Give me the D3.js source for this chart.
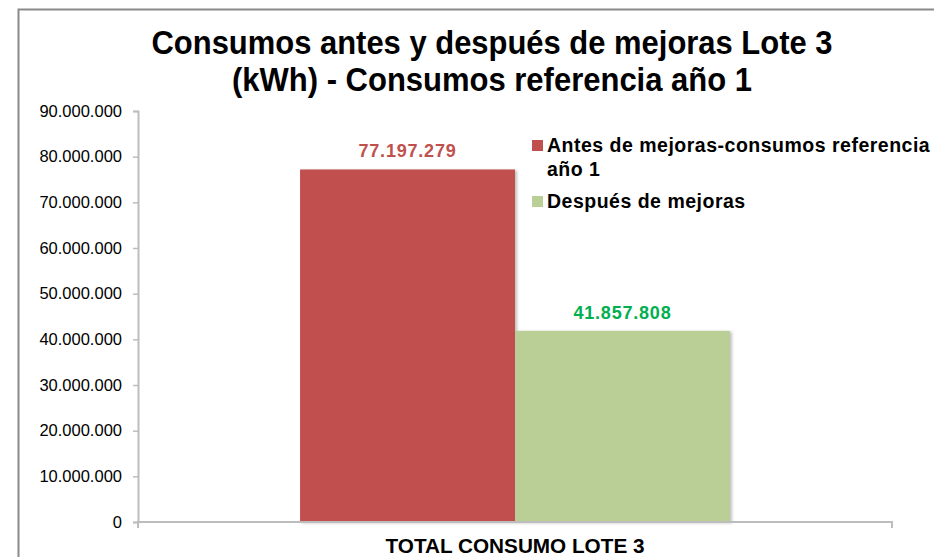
<!DOCTYPE html>
<html>
<head>
<meta charset="utf-8">
<script src="https://cdn.jsdelivr.net/npm/d3@7"></script>
<style>
  body { margin: 0; background: #fff; }
  svg { font-family: "Liberation Sans", Arial, Helvetica, sans-serif; }
</style>
</head>
<body>
<div id="chart"></div>
<script>
// chart data
const categories = ["TOTAL CONSUMO LOTE 3"]
const seriesNames = ["Antes de mejoras-consumos referencia año 1", "Después de mejoras"]
const seriesValues = [77197279, 41857808]
const yTicks = [0, 10000000, 20000000, 30000000, 40000000, 50000000, 60000000, 70000000, 80000000, 90000000]
const titleLines = ["Consumos antes y después de mejoras Lote 3", "(kWh) - Consumos referencia año 1"]

const barColors = ["#C0504D", "#B9CF96"]
const labelColors = ["#C0504D", "#00B050"]

const width = 934, height = 557
const margin = { left: 138, right: 42, top: 111, bottom: 35 }

const es = d3.formatLocale({ decimal: ",", thousands: ".", grouping: [3], currency: ["", "€"] })
const fmt = es.format(",.0f")

const svg = d3.select("#chart").append("svg")
    .attr("width", width)
    .attr("height", height)

// soft shadow for the bars
const defs = svg.append("defs")
const shadow = defs.append("filter").attr("id", "shadow")
    .attr("x", "-5%").attr("y", "-5%").attr("width", "115%").attr("height", "115%")
shadow.append("feDropShadow")
    .attr("dx", 2).attr("dy", 1).attr("stdDeviation", 1.5)
    .attr("flood-color", "#000").attr("flood-opacity", 0.25)

// outer frame (top and left edges only visible)
svg.append("path")
    .attr("d", "M 18.5," + height + " L 18.5,9.5 L " + width + ",9.5")
    .attr("fill", "none")
    .attr("stroke", "#8a8a8a")
    .attr("stroke-width", 2)

// title - the original glyphs are narrow, so squeeze to the measured widths
const titleWidths = [681, 520]
svg.append("g").selectAll("text")
    .data(titleLines)
    .enter().append("text")
    .attr("x", 492)
    .attr("y", function (d, i) { return 54 + i * 37; })
    .attr("text-anchor", "middle")
    .attr("textLength", function (d, i) { return titleWidths[i]; })
    .attr("lengthAdjust", "spacingAndGlyphs")
    .style("font-size", "33px")
    .style("font-weight", "bold")
    .style("fill", "#000")
    .text(function (d) { return d; })

const y = d3.scaleLinear()
    .domain([0, 90000000])
    .range([height - margin.bottom, margin.top])

const x0 = d3.scaleBand()
    .domain(categories)
    .range([margin.left, width - margin.right])
    .paddingInner(0)
    .paddingOuter(0.377)

const x1 = d3.scaleBand()
    .domain(seriesNames)
    .range([0, x0.bandwidth()])

// y axis
const yAxis = svg.append("g")
    .attr("transform", "translate(" + margin.left + ",0)")
    .call(d3.axisLeft(y).tickValues(yTicks).tickFormat(fmt).tickSize(5).tickPadding(11))
yAxis.select(".domain").attr("stroke", "#bdbdbd").attr("stroke-width", 2)
yAxis.selectAll(".tick line").attr("stroke", "#bdbdbd").attr("stroke-width", 1.5)
yAxis.selectAll(".tick text")
    .style("font-size", "16.5px")
    .style("font-family", "\"Liberation Sans\", Arial, sans-serif")
    .attr("fill", "#000")

// bars
const group = svg.append("g")
    .selectAll("g")
    .data(categories)
    .enter().append("g")
    .attr("transform", function (d) { return "translate(" + x0(d) + ",0)"; })

group.selectAll("rect")
    .data(seriesNames.map(function (s, i) { return { name: s, value: seriesValues[i], i: i }; }))
    .enter().append("rect")
    .attr("x", function (d) { return x1(d.name); })
    .attr("y", function (d) { return y(d.value); })
    .attr("width", x1.bandwidth())
    .attr("height", function (d) { return y(0) - y(d.value); })
    .attr("fill", function (d) { return barColors[d.i]; })
    .attr("filter", "url(#shadow)")

// value labels
group.selectAll("text.value")
    .data(seriesNames.map(function (s, i) { return { name: s, value: seriesValues[i], i: i }; }))
    .enter().append("text")
    .attr("class", "value")
    .attr("x", function (d) { return x1(d.name) + x1.bandwidth() / 2; })
    .attr("y", function (d) { return y(d.value) - 12; })
    .attr("text-anchor", "middle")
    .style("font-size", "18px")
    .style("font-weight", "bold")
    .style("letter-spacing", "0.8px")
    .style("fill", function (d) { return labelColors[d.i]; })
    .text(function (d) { return fmt(d.value); })

// x axis
const xAxis = svg.append("g")
    .attr("transform", "translate(0," + y(0) + ")")
    .call(d3.axisBottom(x0).tickSize(0).tickPadding(17))
xAxis.select(".domain")
    .attr("d", "M" + margin.left + ",6V0H" + (width - margin.right) + "V6")
    .attr("stroke", "#bdbdbd").attr("stroke-width", 2)
xAxis.selectAll(".tick text")
    .style("font-size", "20px")
    .style("font-weight", "bold")
    .style("font-family", "\"Liberation Sans\", Arial, sans-serif")
    .attr("fill", "#000")
    .attr("textLength", 259)
    .attr("lengthAdjust", "spacingAndGlyphs")

// legend
const legendRows = [
    { lines: ["Antes de mejoras-consumos referencia", "año 1"], y: 152 },
    { lines: ["Después de mejoras"], y: 208 }
]
const legend = svg.append("g")
    .selectAll("g")
    .data(legendRows)
    .enter().append("g")
    .attr("transform", function (d) { return "translate(532," + d.y + ")"; })

legend.append("rect")
    .attr("x", 0)
    .attr("y", -12)
    .attr("width", 11)
    .attr("height", 11)
    .attr("fill", function (d, i) { return barColors[i]; })

legend.each(function (d) {
    const g = d3.select(this)
    d.lines.forEach(function (line, k) {
        g.append("text")
            .attr("x", 15)
            .attr("y", k * 24)
            .style("font-size", "19.5px")
            .style("font-weight", "bold")
            .style("letter-spacing", "0.5px")
            .style("fill", "#000")
            .text(line)
    })
})
</script>
</body>
</html>
